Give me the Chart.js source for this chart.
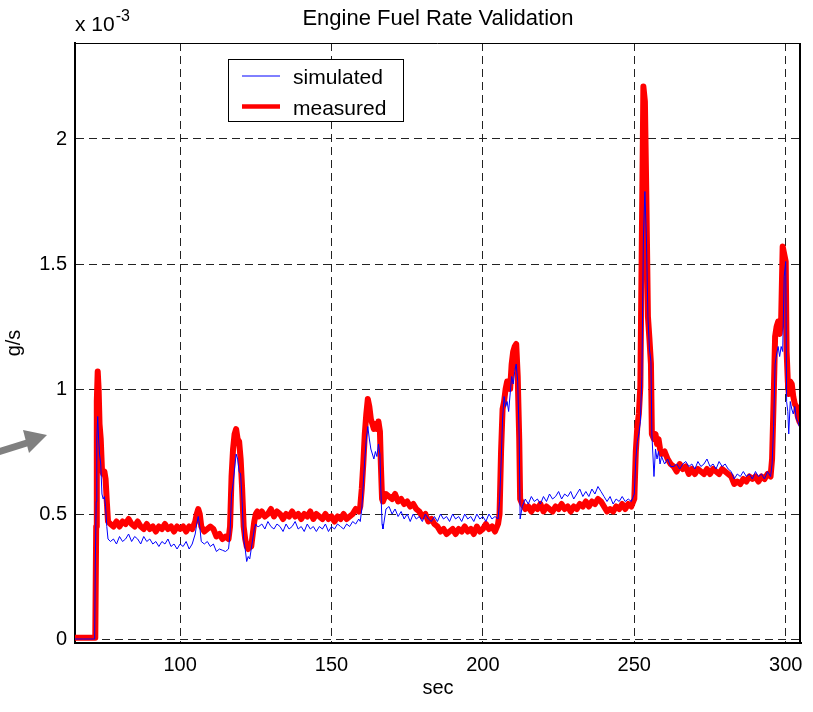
<!DOCTYPE html>
<html>
<head>
<meta charset="utf-8">
<script src="https://cdn.jsdelivr.net/npm/chart.js@4/dist/chart.umd.min.js"></script>
<style>
  html, body { margin: 0; padding: 0; background: #ffffff; }
  #c { display: block; }
</style>
</head>
<body>
<canvas id="c" width="813" height="712"></canvas>
<script>
// ---- data (values in units of 1e-3 g/s) ----
const chartTitle = 'Engine Fuel Rate Validation';
const xAxisLabel = 'sec';
const yAxisLabel = 'g/s';
const seriesNames = ['simulated', 'measured'];
const xTickValues = [100, 150, 200, 250, 300];
const yTickValues = [0, 0.5, 1, 1.5, 2];

const timeSec = [
  65.3, 68, 71.5, 71.8,
  72.0, 72.3, 72.5, 72.8, 73.1, 73.4, 73.8, 74.2, 74.6, 75.0, 75.4, 75.8, 76.2,
  77, 78, 79, 80, 81, 82, 83, 84, 85, 86, 87, 88, 89, 90, 91, 92, 93, 94, 95, 96, 97, 98, 99, 100, 101, 102, 103, 104,
  105, 105.5, 106, 106.5, 107, 108, 109, 110, 111, 112, 113, 114, 115, 116,
  116.5, 117, 117.5, 118, 118.5, 119, 119.5, 120, 120.5, 121, 121.5, 122, 122.5, 123, 123.5, 124, 124.5, 125, 125.5,
  126, 127, 128, 129, 130, 131, 132, 133, 134, 135, 136, 137, 138, 139, 140, 141, 142, 143, 144, 145, 146, 147, 148, 149, 150, 151, 152, 153, 154, 155, 156, 157, 158, 159,
  159.5, 160, 160.5, 161, 161.5, 162, 162.5, 163, 163.5, 164, 164.5, 165, 165.5, 166, 166.3, 166.7,
  167, 168, 169, 170, 171, 172, 173, 174, 175, 176, 177, 178, 179, 180, 181, 182, 183, 184, 185, 186, 187, 188, 189, 190, 191, 192, 193, 194, 195, 196, 197, 198, 199, 200, 201, 202, 203, 204, 205,
  205.5, 206, 206.5, 207, 207.5, 208, 208.5, 209, 209.5, 210, 210.5, 211, 211.5, 212, 212.3,
  213, 214, 215, 216, 217, 218, 219, 220, 221, 222, 223, 224, 225, 226, 227, 228, 229, 230, 231, 232, 233, 234, 235, 236, 237, 238, 239, 240, 241, 242, 243, 244, 245, 246, 247, 248, 249, 250,
  250.5, 251, 251.5, 252, 252.5, 253, 253.5, 254, 254.5, 255, 255.5, 255.8, 256.5, 257, 257.5, 258, 258.5, 259, 260, 261, 262,
  263, 264, 265, 266, 267, 268, 269, 270, 271, 272, 273, 274, 275, 276, 277, 278, 279, 280, 281, 282, 283, 284, 285, 286, 287, 288, 289, 290, 291, 292, 293, 294, 295,
  295.5, 296, 296.5, 297, 297.5, 298, 298.5, 299, 299.5, 300, 300.3, 300.7, 301, 301.5, 302, 302.5, 303, 303.5, 304, 304.5, 305
];

const simulated = [
  0, 0, 0, 0,
  0.30, 0.55, 0.80, 0.89, 0.80, 0.74, 0.70, 0.58, 0.56, 0.57, 0.53, 0.45, 0.40,
  0.39, 0.40, 0.38, 0.41, 0.39, 0.40, 0.42, 0.39, 0.41, 0.40, 0.38, 0.41, 0.39, 0.40, 0.38, 0.39, 0.37, 0.39, 0.38, 0.40, 0.37, 0.38, 0.36, 0.38, 0.37, 0.39, 0.36, 0.38,
  0.42, 0.46, 0.49, 0.45, 0.39, 0.38, 0.39, 0.37, 0.38, 0.35, 0.36, 0.355, 0.35, 0.36,
  0.42, 0.58, 0.62, 0.68, 0.74, 0.72, 0.67, 0.66, 0.55, 0.40, 0.36, 0.31, 0.33, 0.32, 0.36, 0.40, 0.44, 0.46, 0.45,
  0.45, 0.46, 0.44, 0.47, 0.45, 0.44, 0.46, 0.45, 0.43, 0.46, 0.44, 0.45, 0.47, 0.44, 0.45, 0.43, 0.46, 0.44, 0.45, 0.43, 0.45, 0.44, 0.46, 0.43, 0.45, 0.44, 0.46, 0.45, 0.44, 0.46, 0.45, 0.47, 0.46, 0.48,
  0.47, 0.52, 0.62, 0.72, 0.80, 0.85, 0.80, 0.76, 0.74, 0.72, 0.75, 0.73, 0.78, 0.74, 0.60, 0.46,
  0.44, 0.52, 0.53, 0.50, 0.52, 0.49, 0.51, 0.48, 0.50, 0.47, 0.50, 0.48, 0.49, 0.47, 0.50, 0.48, 0.47, 0.49, 0.47, 0.50, 0.48, 0.49, 0.47, 0.50, 0.48, 0.49, 0.47, 0.50, 0.48, 0.49, 0.47, 0.50, 0.48, 0.49, 0.47, 0.50, 0.48, 0.49, 0.48,
  0.55, 0.70, 0.88, 0.97, 0.93, 0.95, 0.91, 0.98, 1.05, 1.02, 1.07, 1.10, 1.03, 0.80, 0.48,
  0.53, 0.56, 0.54, 0.57, 0.55, 0.56, 0.54, 0.57, 0.55, 0.58, 0.56, 0.57, 0.59, 0.56, 0.58, 0.57, 0.59, 0.56, 0.58, 0.60, 0.57, 0.59, 0.57, 0.60, 0.58, 0.61, 0.59, 0.57, 0.55, 0.57, 0.54, 0.56, 0.55, 0.57, 0.55, 0.56, 0.55, 0.58,
  0.72, 0.79, 0.82, 0.87, 1.05, 1.60, 1.79, 1.60, 1.29, 1.16, 1.11, 0.82, 0.65, 0.76, 0.72, 0.75, 0.70, 0.73, 0.70, 0.72, 0.69,
  0.69, 0.70, 0.68, 0.70, 0.71, 0.69, 0.70, 0.68, 0.71, 0.69, 0.70, 0.72, 0.69, 0.70, 0.68, 0.71, 0.69, 0.70, 0.68, 0.67, 0.64, 0.66, 0.65, 0.67, 0.65, 0.66, 0.64, 0.67, 0.65, 0.66, 0.64, 0.67, 0.65,
  0.70, 0.85, 1.10, 1.14, 1.17, 1.13, 1.17, 1.15, 1.45, 1.51, 0.95, 0.91, 0.82, 0.95, 0.92, 0.90, 0.93, 0.88, 0.87, 0.85, 0.86
];

const measured = [
  0.005, 0.005, 0.005, 0.005,
  0.005, 0.45, 0.95, 1.07, 1.00, 0.86, 0.80, 0.68, 0.66, 0.67, 0.64, 0.55, 0.47,
  0.46, 0.45, 0.47, 0.45, 0.47, 0.46, 0.48, 0.46, 0.45, 0.47, 0.45, 0.44, 0.46, 0.44, 0.45, 0.43, 0.45, 0.44, 0.46, 0.44, 0.45, 0.43, 0.45, 0.44, 0.45, 0.43, 0.45, 0.44,
  0.47, 0.50, 0.52, 0.50, 0.45, 0.43, 0.44, 0.45, 0.44, 0.41, 0.42, 0.40, 0.41, 0.40,
  0.45, 0.65, 0.76, 0.82, 0.84, 0.80, 0.79, 0.72, 0.60, 0.45, 0.40, 0.37, 0.36, 0.38, 0.37, 0.42, 0.47, 0.50, 0.51,
  0.49, 0.51, 0.49, 0.50, 0.52, 0.49, 0.51, 0.50, 0.48, 0.50, 0.49, 0.51, 0.49, 0.50, 0.48, 0.50, 0.49, 0.51, 0.48, 0.50, 0.49, 0.48, 0.50, 0.48, 0.49, 0.47, 0.49, 0.48, 0.50, 0.48, 0.49, 0.50, 0.52, 0.51,
  0.53, 0.60, 0.70, 0.82, 0.90, 0.96, 0.93, 0.88, 0.86, 0.84, 0.86, 0.84, 0.87, 0.83, 0.70, 0.56,
  0.55, 0.58, 0.57, 0.56, 0.58, 0.55, 0.56, 0.54, 0.55, 0.53, 0.54, 0.52, 0.51, 0.49, 0.50, 0.47, 0.48, 0.46, 0.45, 0.43, 0.44, 0.42, 0.43, 0.44, 0.42, 0.44, 0.43, 0.45, 0.43, 0.44, 0.42, 0.45, 0.43, 0.44, 0.46, 0.44, 0.45, 0.43, 0.46,
  0.50, 0.75, 0.92, 0.95, 1.00, 1.03, 1.02, 1.00, 1.10, 1.15, 1.17, 1.18, 1.05, 0.80, 0.56,
  0.54, 0.52, 0.53, 0.51, 0.53, 0.52, 0.54, 0.51, 0.53, 0.52, 0.51, 0.53, 0.52, 0.54, 0.52, 0.53, 0.51, 0.53, 0.52, 0.54, 0.53, 0.55, 0.53, 0.55, 0.54, 0.56, 0.55, 0.53, 0.51, 0.52, 0.51, 0.53, 0.52, 0.54, 0.52, 0.54, 0.53, 0.56,
  0.75, 0.85, 0.90, 1.01, 1.61, 2.21, 2.15, 1.75, 1.29, 1.20, 1.10, 0.82, 0.80, 0.82, 0.78, 0.80, 0.76, 0.74, 0.75, 0.72, 0.70,
  0.69, 0.67, 0.70, 0.68, 0.69, 0.66, 0.68, 0.66, 0.68, 0.67, 0.66, 0.68, 0.66, 0.68, 0.67, 0.66, 0.68, 0.67, 0.66, 0.65, 0.62, 0.63, 0.62, 0.64, 0.63, 0.65, 0.64, 0.65, 0.63, 0.65, 0.64, 0.66, 0.65,
  0.72, 0.95, 1.21, 1.25, 1.27, 1.22, 1.28, 1.57, 1.54, 1.51, 1.15, 1.03, 0.98, 1.03, 1.02, 0.97, 0.94, 0.93, 0.89, 0.87, 0.86
];

// ---- chart ----
const FONT = '"Liberation Sans", Arial, Helvetica, sans-serif';
const n = Math.min(timeSec.length, simulated.length, measured.length);
const toPoints = arr => timeSec.slice(0, n).map((t, i) => ({ x: t, y: arr[i] }));

const decorPlugin = {
  id: 'decor',
  afterDraw(chart) {
    const ctx = chart.ctx;
    const a = chart.chartArea;
    ctx.save();
    // box (top and right edges)
    ctx.strokeStyle = '#000';
    ctx.lineWidth = 1;
    ctx.beginPath();
    ctx.moveTo(a.left, a.top + 0.5);
    ctx.lineTo(a.right - 0.5, a.top + 0.5);
    ctx.lineTo(a.right - 0.5, a.bottom);
    ctx.stroke();
    ctx.lineWidth = 2;
    ctx.beginPath();
    ctx.moveTo(a.right - 1, a.top);
    ctx.lineTo(a.right - 1, a.bottom);
    ctx.stroke();

    // title
    ctx.fillStyle = '#000';
    ctx.textAlign = 'center';
    ctx.textBaseline = 'alphabetic';
    ctx.font = '22px ' + FONT;
    ctx.fillText(chartTitle, (a.left + a.right) / 2, 25);

    // exponent label
    ctx.textAlign = 'left';
    ctx.font = '21px ' + FONT;
    ctx.fillText('x 10', a.left, 31);
    const w = ctx.measureText('x 10').width;
    ctx.font = '16px ' + FONT;
    ctx.fillText('-3', a.left + w + 1, 21);

    // legend
    const lx = 228.5, ly = 59.5, lw = 175, lh = 62;
    ctx.fillStyle = '#fff';
    ctx.fillRect(lx, ly, lw, lh);
    ctx.strokeStyle = '#000';
    ctx.lineWidth = 1;
    ctx.strokeRect(lx, ly, lw, lh);
    const ds = chart.data.datasets;
    const rows = [76, 106.5];
    ds.forEach((d, i) => {
      ctx.strokeStyle = d.borderColor;
      ctx.lineWidth = Math.min(d.borderWidth, 4.5);
      ctx.beginPath();
      ctx.moveTo(242, rows[i]);
      ctx.lineTo(280, rows[i]);
      ctx.stroke();
      ctx.fillStyle = '#000';
      ctx.font = '21px ' + FONT;
      ctx.textBaseline = 'alphabetic';
      ctx.fillText(d.label, 293, rows[i] + 8);
    });

    // grey pointer arrow at left margin
    ctx.fillStyle = '#808080';
    ctx.strokeStyle = '#808080';
    ctx.lineWidth = 7;
    ctx.beginPath();
    ctx.moveTo(-2, 452);
    ctx.lineTo(30, 442);
    ctx.stroke();
    ctx.beginPath();
    ctx.moveTo(23, 430);
    ctx.lineTo(47, 435);
    ctx.lineTo(29, 453);
    ctx.closePath();
    ctx.fill();
    ctx.restore();
  }
};

new Chart(document.getElementById('c'), {
  type: 'line',
  data: {
    datasets: [
      { label: seriesNames[0], data: toPoints(simulated), borderColor: '#0000ff', backgroundColor: '#0000ff',
        borderWidth: 1, pointRadius: 0, tension: 0, fill: false },
      { label: seriesNames[1], data: toPoints(measured), borderColor: '#ff0000', backgroundColor: '#ff0000',
        borderWidth: 6, pointRadius: 0, tension: 0, fill: false, borderJoinStyle: 'round', borderCapStyle: 'round' }
    ]
  },
  options: {
    responsive: false,
    animation: false,
    devicePixelRatio: 1,
    layout: { padding: { left: 0, top: 43, right: 12, bottom: 0 } },
    plugins: { legend: { display: false }, title: { display: false }, tooltip: { enabled: false } },
    scales: {
      x: {
        type: 'linear', min: 65.3, max: 305.05,
        afterBuildTicks: s => { s.ticks = xTickValues.map(v => ({ value: v })); },
        afterFit: s => { s.height = 69; },
        grid: { color: '#222', lineWidth: 1, drawTicks: false },
        border: { display: true, color: '#000', width: 2, dash: [8, 5] },
        ticks: { color: '#000', font: { family: FONT, size: 20 }, padding: 10, maxRotation: 0, autoSkip: false },
        title: { display: true, text: xAxisLabel, color: '#000', font: { family: FONT, size: 20 }, padding: { top: 0, bottom: 12 } }
      },
      y: {
        type: 'linear', min: -0.016, max: 2.384,
        afterBuildTicks: s => { s.ticks = yTickValues.map(v => ({ value: v })); },
        afterFit: s => { s.width = 75; },
        grid: { color: '#222', lineWidth: 1, drawTicks: false },
        border: { display: true, color: '#000', width: 2, dash: [8, 5] },
        ticks: { color: '#000', font: { family: FONT, size: 20 }, padding: 8, callback: v => String(v) },
        title: { display: true, text: yAxisLabel, color: '#000', font: { family: FONT, size: 20 }, padding: { top: 2, bottom: 0 } }
      }
    }
  },
  plugins: [decorPlugin]
});
</script>
</body>
</html>
